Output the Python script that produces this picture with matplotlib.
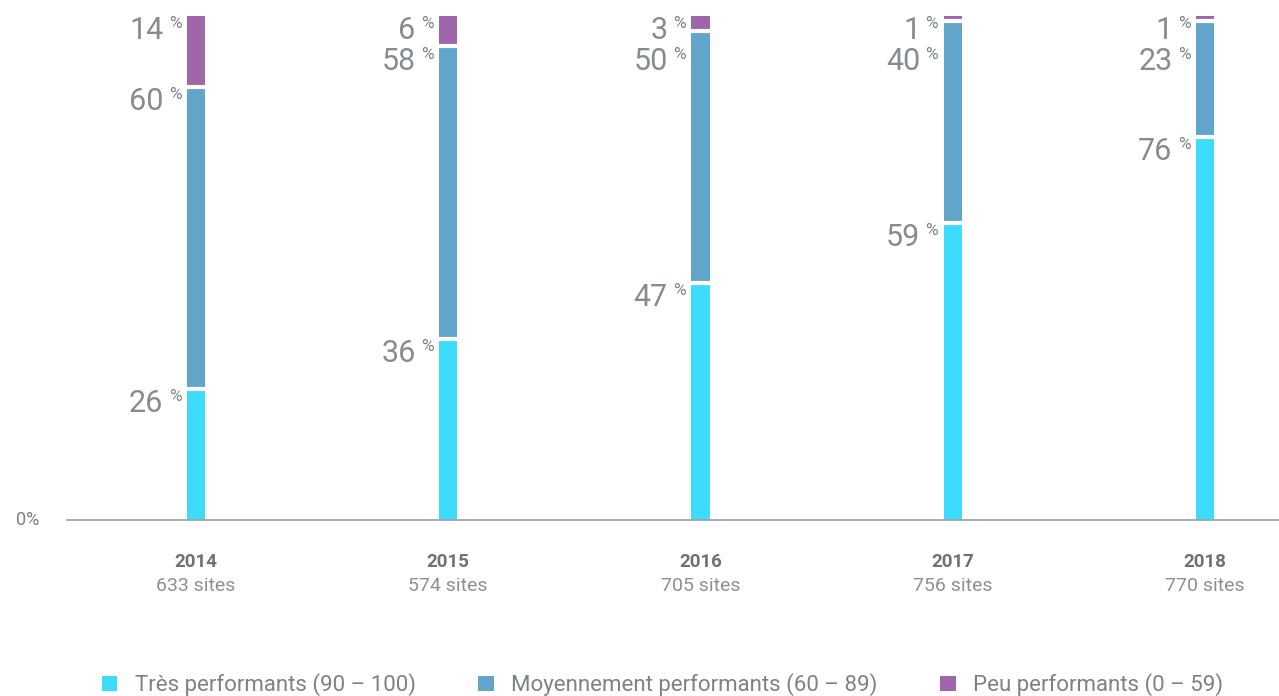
import matplotlib.pyplot as plt
from matplotlib.patches import Patch
import numpy as np

years = ['2014', '2015', '2016', '2017', '2018']
sites = ['633 sites', '574 sites', '705 sites', '756 sites', '770 sites']
series_names = ['Très performants (90 – 100)', 'Moyennement performants (60 – 89)',
                'Peu performants (0 – 59)']
tres = [26, 36, 47, 59, 76]
moyen = [60, 58, 50, 40, 23]
peu = [14, 6, 3, 1, 1]
colors = ['#3ddcfc', '#61a5ca', '#a066aa']

grey = '#7b8388'
plt.rcParams['font.family'] = ['Roboto', 'DejaVu Sans']

fig = plt.figure(figsize=(12.79, 6.96), dpi=100)
ax = fig.add_axes([67 / 1279, 176 / 696, 1212 / 1279, 504 / 696])

x = np.arange(len(years))
width = 0.072
series = [tres, moyen, peu]
bottom = np.zeros(len(years))
for vals, c in zip(series, colors):
    ax.bar(x, vals, width, bottom=bottom, color=c, zorder=2)
    bottom = bottom + np.array(vals)

# white gaps between segments
cum = np.cumsum(np.array(series), axis=0)
for level in cum[:-1]:
    ax.hlines(level, x - width / 2 - 0.01, x + width / 2 + 0.01, color='white', lw=3, zorder=3)

# value labels, pushed down if they collide with the one above
min_gap = 6.2
for i in range(len(years)):
    tops = cum[:, i][::-1]
    vals = [s[i] for s in series][::-1]
    prev = None
    for top, v in zip(tops, vals):
        y = top if prev is None else min(top, prev - min_gap)
        prev = y
        ax.annotate('%', (x[i] - width / 2, y), xytext=(-4, 0), textcoords='offset points',
                    ha='right', va='top', fontsize=12.5, color=grey)
        ax.annotate(str(v), (x[i] - width / 2, y), xytext=(-17, 0), textcoords='offset points',
                    ha='right', va='top', fontsize=22, color='#868d92')

ax.set_xlim(-0.511, 4.293)
ax.set_ylim(0, 100)
for s in ['top', 'right', 'left']:
    ax.spines[s].set_visible(False)
ax.spines['bottom'].set_color('#9aa0a4')
ax.spines['bottom'].set_linewidth(1.2)
ax.set_yticks([])
ax.set_xticks([])

for i in range(len(years)):
    ax.annotate(years[i], (x[i], 0), xytext=(0, -30), textcoords='offset points',
                ha='center', va='center', fontsize=13.5, fontweight='bold', color='#6b7378')
    ax.annotate(sites[i], (x[i], 0), xytext=(0, -47.5), textcoords='offset points',
                ha='center', va='center', fontsize=14, color='#8a9196')
ax.annotate('0%', (0, 0), xycoords=('axes fraction', 'data'), xytext=(-28, 0),
            textcoords='offset points', ha='center', va='center', fontsize=13, color=grey)

handles = [Patch(facecolor=c, edgecolor='none') for c in colors]
fig.legend(handles, series_names, loc='center', bbox_to_anchor=(0.518, 0.016), ncol=3,
           frameon=False, fontsize=16, handlelength=0.7, handleheight=0.7,
           handletextpad=0.8, columnspacing=2.8, labelcolor=grey)

fig.savefig('out.png', dpi=100)
